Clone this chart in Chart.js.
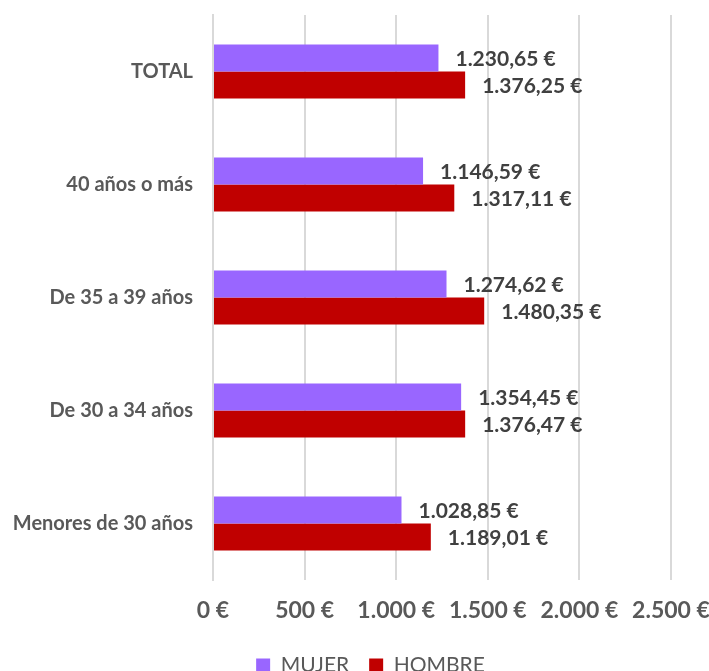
<!DOCTYPE html>
<html><head><meta charset="utf-8">
<script src="https://cdn.jsdelivr.net/npm/chart.js@4"></script>
<style>html,body{margin:0;padding:0;background:#fff}#wrap{width:709px;height:671px}</style>
</head><body><div id="wrap"><canvas id="c" width="709" height="671"></canvas></div>
<script>
const categories = ["TOTAL", "40 años o más", "De 35 a 39 años", "De 30 a 34 años", "Menores de 30 años"];
const mujer = [1230.65, 1146.59, 1274.62, 1354.45, 1028.85];
const hombre = [1376.25, 1317.11, 1480.35, 1376.47, 1189.01];
const xTicks = [0, 500, 1000, 1500, 2000, 2500];

function fmtEuro(v, dec) {
  const parts = v.toFixed(dec).split(".");
  const intp = parts[0].replace(/\B(?=(\d{3})+(?!\d))/g, ".");
  return (parts.length > 1 ? intp + "," + parts[1] : intp) + " €";
}

const FONT = "Lato";
const labelPlugin = {
  id: "vals",
  afterDatasetsDraw(chart) {
    const ctx = chart.ctx;
    ctx.save();
    ctx.font = "bold 21px " + FONT;
    ctx.fillStyle = "#404040";
    ctx.textBaseline = "middle";
    ctx.textAlign = "left";
    chart.data.datasets.forEach((ds, i) => {
      chart.getDatasetMeta(i).data.forEach((el, j) => {
        ctx.fillText(fmtEuro(ds.data[j], 2), el.x + 17, el.y + 1);
      });
    });
    ctx.restore();
  }
};
const legendShift = {
  id: "legendShift",
  afterLayout(chart) {
    if (chart.legend) { chart.legend.left += 35; chart.legend.right += 35; }
  }
};

new Chart(document.getElementById("c"), {
  type: "bar",
  data: {
    labels: categories,
    datasets: [
      { label: "MUJER", data: mujer, backgroundColor: "#9966FF", borderWidth: 0 },
      { label: "HOMBRE", data: hombre, backgroundColor: "#C00000", borderWidth: 0 }
    ]
  },
  options: {
    indexAxis: "y",
    responsive: false,
    animation: false,
    devicePixelRatio: 1,
    layout: { padding: { top: 15, right: 38, left: 0, bottom: -15 } },
    categoryPercentage: 0.48,
    barPercentage: 1.0,
    plugins: {
      legend: {
        position: "bottom",
        labels: { boxWidth: 14, boxHeight: 14, color: "#595959", font: { family: FONT, size: 21 }, padding: 20 }
      },
      tooltip: { enabled: false }
    },
    scales: {
      x: {
        min: 0, max: 2500,
        afterBuildTicks: s => { s.ticks = xTicks.map(v => ({ value: v })); },
        afterFit: s => { s.height = 55; s.paddingLeft = 0; s.paddingRight = 0; },
        grid: { color: "#D9D9D9", lineWidth: 2, drawTicks: false },
        border: { display: false },
        ticks: { padding: 17, maxRotation: 0, autoSkip: false, color: "#595959", font: { family: FONT, size: 23, weight: "bold" }, callback: v => fmtEuro(v, 0) }
      },
      y: {
        afterFit: s => { s.width = 213; s.paddingTop = 0; s.paddingBottom = 0; },
        grid: { display: false, drawTicks: false },
        border: { color: "#D9D9D9", width: 2 },
        ticks: { padding: 20, color: "#595959", font: { family: FONT, size: 20, weight: "bold" } }
      }
    }
  },
  plugins: [labelPlugin, legendShift]
});
</script></body></html>
